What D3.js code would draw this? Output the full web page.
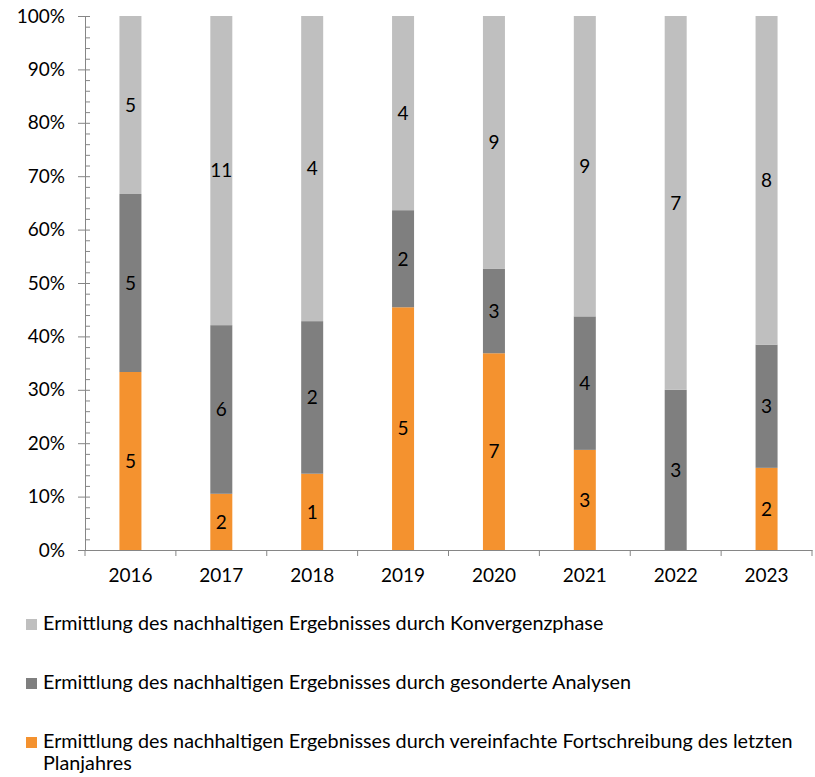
<!DOCTYPE html>
<html>
<head>
<meta charset="utf-8">
<script src="https://cdn.jsdelivr.net/npm/d3@7"></script>
<style>
  body { margin: 0; background: #fff; }
  text { font-family: Lato, "Open Sans", sans-serif; fill: #000; }
</style>
</head>
<body>
<div id="chart"></div>
<script>
var years = ["2016", "2017", "2018", "2019", "2020", "2021", "2022", "2023"];
var fortschreibung = [5, 2, 1, 5, 7, 3, 0, 2];
var analysen = [5, 6, 2, 2, 3, 4, 3, 3];
var konvergenz = [5, 11, 4, 4, 9, 9, 7, 8];
var yTicks = [0, 0.1, 0.2, 0.3, 0.4, 0.5, 0.6, 0.7, 0.8, 0.9, 1];

var seriesNames = [
  "Ermittlung des nachhaltigen Ergebnisses durch vereinfachte Fortschreibung des letzten Planjahres",
  "Ermittlung des nachhaltigen Ergebnisses durch gesonderte Analysen",
  "Ermittlung des nachhaltigen Ergebnisses durch Konvergenzphase"
];
var colors = ["#F4922F", "#7F7F7F", "#BFBFBF"];

var width = 815, height = 777;
var mLeft = 85, mRight = 812, mTop = 16, mBottom = 550;

var svg = d3.select("#chart").append("svg")
    .attr("width", width).attr("height", height);

// shares per year for the 100% stack
var rows = years.map(function (yr, i) {
  var total = fortschreibung[i] + analysen[i] + konvergenz[i];
  return { year: yr, a: fortschreibung[i] / total, b: analysen[i] / total, c: konvergenz[i] / total,
           raw: [fortschreibung[i], analysen[i], konvergenz[i]] };
});
var stack = d3.stack().keys(["a", "b", "c"])(rows);

var x = d3.scaleBand().domain(years).range([mLeft, mRight]);
var y = d3.scaleLinear().domain([0, 1]).range([mBottom, mTop]);
var barW = 22;
var axisColor = "#868686";

// minor ticks
svg.append("g").attr("transform", "translate(" + mLeft + ",0)")
  .call(d3.axisRight(y).ticks(50).tickSize(5).tickFormat(""))
  .call(function (g) { g.select(".domain").remove(); })
  .selectAll(".tick line").attr("stroke", axisColor);

// bars
stack.forEach(function (layer, si) {
  var g = svg.append("g");
  g.selectAll("rect")
    .data(layer)
    .enter().append("rect")
    .attr("x", function (d) { return x(d.data.year) + x.bandwidth() / 2 - barW / 2; })
    .attr("width", barW)
    .attr("y", function (d) { return y(d[1]); })
    .attr("height", function (d) { return y(d[0]) - y(d[1]); })
    .attr("fill", colors[si]);

  g.selectAll("text")
    .data(layer.filter(function (d) { return d.data.raw[si] > 0; }))
    .enter().append("text")
    .attr("x", function (d) { return x(d.data.year) + x.bandwidth() / 2; })
    .attr("y", function (d) { return (y(d[0]) + y(d[1])) / 2; })
    .attr("dy", "0.36em")
    .attr("text-anchor", "middle")
    .style("font-size", "19px")
    .text(function (d) { return d.data.raw[si]; });
});

// y axis
var yAxis = svg.append("g").attr("transform", "translate(" + mLeft + ",0)")
  .call(d3.axisLeft(y).tickValues(yTicks).tickFormat(d3.format(".0%")).tickSize(7).tickPadding(13));
yAxis.select(".domain").attr("stroke", axisColor);
yAxis.selectAll(".tick line").attr("stroke", axisColor);
yAxis.selectAll(".tick text").style("font-size", "19px").style("font-family", "Lato, sans-serif").attr("fill", "#000");

// x axis
var xAxis = svg.append("g").attr("transform", "translate(0," + mBottom + ")")
  .call(d3.axisBottom(x).tickSize(0).tickPadding(19));
xAxis.select(".domain").attr("stroke", axisColor);
xAxis.selectAll(".tick text").style("font-size", "19px").style("font-family", "Lato, sans-serif").attr("fill", "#000");
svg.append("g").selectAll("line")
  .data(d3.range(years.length + 1))
  .enter().append("line")
  .attr("x1", function (i) { return mLeft + i * x.step(); })
  .attr("x2", function (i) { return mLeft + i * x.step(); })
  .attr("y1", mBottom).attr("y2", mBottom + 6)
  .attr("stroke", axisColor);

// legend (Konvergenz first)
var legendY = [624, 683, 742];
var legendOrder = [2, 1, 0];
legendOrder.forEach(function (si, k) {
  var g = svg.append("g").attr("transform", "translate(26," + legendY[k] + ")");
  g.append("rect").attr("x", 0).attr("y", -5).attr("width", 11).attr("height", 11).attr("fill", colors[si]);
  var t = g.append("text").attr("x", 17).attr("y", 6).style("font-size", "19.8px");
  if (si === 0) {
    t.append("tspan").attr("x", 17).text("Ermittlung des nachhaltigen Ergebnisses durch vereinfachte Fortschreibung des letzten");
    t.append("tspan").attr("x", 17).attr("y", 28).text("Planjahres");
  } else {
    t.text(seriesNames[si]);
  }
});
</script>
</body>
</html>
